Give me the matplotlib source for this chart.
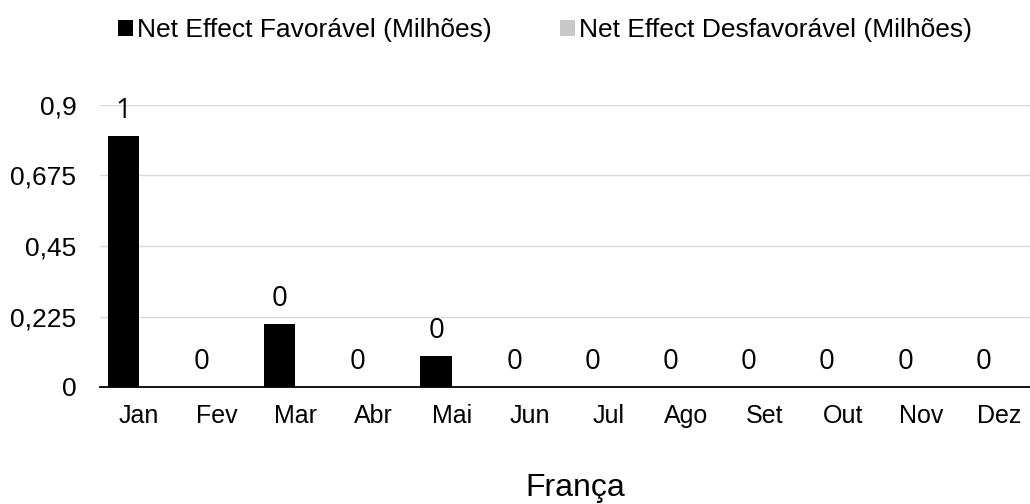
import matplotlib.pyplot as plt
import numpy as np

months = ["Jan", "Fev", "Mar", "Abr", "Mai", "Jun", "Jul", "Ago", "Set", "Out", "Nov", "Dez"]
favoravel = [0.80, 0, 0.20, 0, 0.10, 0, 0, 0, 0, 0, 0, 0]
desfavoravel = [0, 0, 0, 0, 0, 0, 0, 0, 0, 0, 0, 0]
yticks = [0, 0.225, 0.45, 0.675, 0.9]
ytick_labels = ["0", "0,225", "0,45", "0,675", "0,9"]

plt.rcParams['font.family'] = ['Liberation Sans', 'DejaVu Sans']

fig = plt.figure(figsize=(10.3, 5.04), dpi=100)
# the plot area runs a bit past the right edge, as in the reference
ax = fig.add_axes([100 / 1030, 117 / 504, 938 / 1030, 282 / 504])

x = np.arange(len(months))
w = 0.4
b1 = ax.bar(x - w / 2, favoravel, w, color="black", label="Net Effect Favorável (Milhões)", zorder=3)
ax.bar(x + w / 2, desfavoravel, w, color="#c8c8c8", label="Net Effect Desfavorável (Milhões)", zorder=3)

ax.bar_label(b1, fmt="{:.0f}", padding=8, fontsize=20, family="Open Sans", color="black")

ax.set_xlim(-0.5, len(months) - 0.5)
ax.set_ylim(0, 0.9)
ax.set_yticks(yticks)
ax.set_yticklabels(ytick_labels)
ax.set_xticks(x)
ax.set_xticklabels(months)
ax.tick_params(axis="y", length=0, pad=17, labelsize=19, colors="#000000")
ax.tick_params(axis="x", length=0, pad=12, labelsize=18, colors="#000000")

ax.grid(axis="y", color="#d9d9d9", linewidth=1, zorder=0)
for s in ["top", "right", "left"]:
    ax.spines[s].set_visible(False)
ax.spines["bottom"].set_color("black")
ax.spines["bottom"].set_linewidth(1.3)
ax.spines["bottom"].set_zorder(4)

fig.legend(loc="center", bbox_to_anchor=(545 / 1030, 1 - 30 / 504), ncol=2, frameon=False,
           fontsize=19, handlelength=0.55, handleheight=0.55, handletextpad=0.15, columnspacing=2.6)

fig.text(575 / 1030, 1 - 488 / 504, "França", ha="center", va="center", fontsize=23)

fig.savefig("out.png", dpi=100)
